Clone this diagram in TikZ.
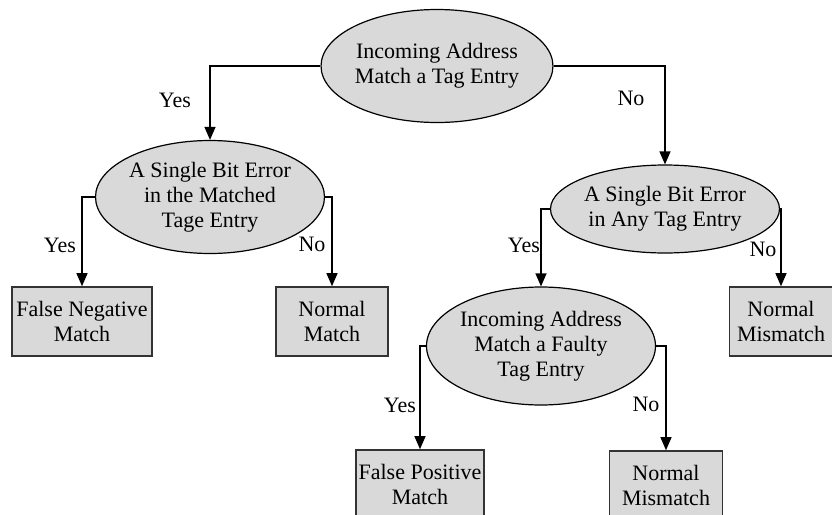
\documentclass[tikz,border=0pt]{standalone}
\usepackage{fontspec}
\setmainfont{Liberation Serif}
\usetikzlibrary{shapes.geometric,arrows.meta}
\definecolor{shadegray}{HTML}{D9D9D9}
\tikzstyle{question} = [
    ellipse,
    draw=black,
    fill=shadegray,
    line width=0.6pt,
    inner sep=0pt,
    align=center,
    font=\fontsize{11}{12.5}\selectfont
    ]
\tikzstyle{outcome} = [
    rectangle,
    draw=black!80,
    fill=shadegray,
    line width=0.8pt,
    inner sep=0pt,
    minimum height=34.5pt,
    align=center,
    font=\fontsize{11}{12.5}\selectfont
    ]
\tikzstyle{branch} = [
    draw,
    line width=0.6pt,
    -{Triangle[width=5.5pt,length=6.5pt]}
    ]
\tikzstyle{answer} = [
    inner sep=0pt,
    font=\fontsize{11}{12.5}\selectfont
    ]

\begin{document}
\begin{tikzpicture}[x=0.5pt,y=-0.5pt]
\useasboundingbox (0,0) rectangle (832,515);
% decisions
\node [question, minimum width=110.5pt, minimum height=56.5pt] (match) at (437,66)
    {Incoming Address\\Match a Tag Entry};
\node [question, minimum width=96.5pt, minimum height=56.5pt] (errmatched) at (210,197)
    {A Single Bit Error\\in the Matched\\Tage Entry};
\node [question, minimum width=97pt, minimum height=44pt] (errany) at (665,209)
    {A Single Bit Error\\in Any Tag Entry};
\node [question, minimum width=97.5pt, minimum height=59pt] (faulty) at (541,346)
    {Incoming Address\\Match a Faulty\\Tag Entry};
% results
\node [outcome, minimum width=70pt] (falseneg) at (82,321.5) {False Negative\\Match};
\node [outcome, minimum width=56pt] (normmatch) at (332,321.5) {Normal\\Match};
\node [outcome, minimum width=51.5pt] (normmis) at (781,321.5) {Normal\\Mismatch};
\node [outcome, minimum width=64pt] (falsepos) at (420,484.5) {False Positive\\Match};
\node [outcome, minimum width=56.5pt] (normmisb) at (666,485.5) {Normal\\Mismatch};
% connectors
\draw [branch] (match.west) -| (errmatched.north);
\draw [branch] (match.east) -| (errany.north);
\draw [branch] (errmatched.west) -| (falseneg.north);
\draw [branch] (errmatched.east) -| (normmatch.north);
\draw [branch] (errany.west) -| (faulty.north);
\draw [branch] (errany.east) -| (normmis.north);
\draw [branch] (faulty.west) -| (falsepos.north);
\draw [branch] (faulty.east) -| (normmisb.north);
% labels
\node [answer] (yesa) at (175,100) {Yes};
\node [answer] (noa) at (631,98) {No};
\node [answer] (yesb) at (60,245) {Yes};
\node [answer] (nob) at (312,244) {No};
\node [answer] (yesc) at (524,245) {Yes};
\node [answer] (noc) at (763,249) {No};
\node [answer] (yesd) at (400,405) {Yes};
\node [answer] (nod) at (646,404) {No};
\end{tikzpicture}
\end{document}
